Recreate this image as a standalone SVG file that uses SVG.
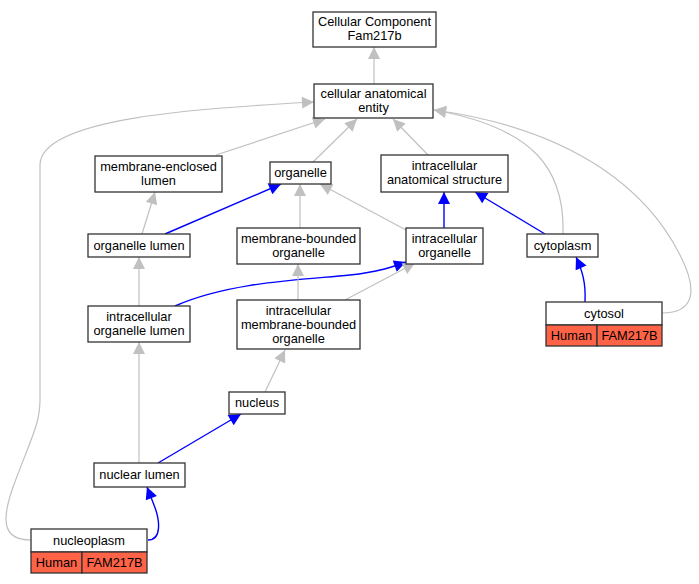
<svg xmlns="http://www.w3.org/2000/svg" width="699" height="584" viewBox="0 0 699 584">
<style>
.n rect{fill:#fff;stroke:#333;stroke-width:1.3}
.r{fill:#ff6347!important}
text{font-family:"Liberation Sans",Arial,sans-serif;font-size:12.8px;fill:#000;text-anchor:middle}
.g{fill:none;stroke:#c0c0c0;stroke-width:1.2}
.b{fill:none;stroke:#0000ff;stroke-width:1.4}
</style>
<defs>
<marker id="ag" markerUnits="userSpaceOnUse" markerWidth="14" markerHeight="12" refX="11" refY="5.5" orient="auto" viewBox="0 0 12 11"><path d="M0,0 L11,5.5 L0,11 Z" fill="#c0c0c0"/></marker>
<marker id="ab" markerUnits="userSpaceOnUse" markerWidth="14" markerHeight="12" refX="11" refY="5.5" orient="auto" viewBox="0 0 12 11"><path d="M0,0 L11,5.5 L0,11 Z" fill="#0000ff"/></marker>
</defs>
<rect width="699" height="584" fill="#fff"/>
<g id="edges">
<path class="g" marker-end="url(#ag)" d="M374,84 L374,47"/>
<path class="g" marker-end="url(#ag)" d="M216,155 L325,119"/>
<path class="g" marker-end="url(#ag)" d="M313,162 L357,119"/>
<path class="g" marker-end="url(#ag)" d="M428,155 L393,119"/>
<path class="g" marker-end="url(#ag)" d="M563,234 C565,170 535,128 434,110"/>
<path class="g" marker-end="url(#ag)" d="M662,313 C695,313 698,290 680,255 C650,195 580,130 434,110"/>
<path class="g" marker-end="url(#ag)" d="M31,540 C2,540 2,520 12,490 C30,440 40,425 40,400 L40,165 C40,118 200,108 314,102"/>
<path class="b" marker-end="url(#ab)" d="M165,234 L281,184"/>
<path class="g" marker-end="url(#ag)" d="M142,234 L155,192"/>
<path class="g" marker-end="url(#ag)" d="M300,228 L300,184"/>
<path class="g" marker-end="url(#ag)" d="M406,230 L320,184"/>
<path class="b" marker-end="url(#ab)" d="M444,228 L444,192"/>
<path class="b" marker-end="url(#ab)" d="M545,234 L475,192"/>
<path class="b" marker-end="url(#ab)" d="M585,302 C586,282 582,270 576,257"/>
<path class="g" marker-end="url(#ag)" d="M139,306 L139,257"/>
<path class="b" marker-end="url(#ab)" d="M175,306 C230,282 300,280 350,275 C380,272 395,266 406,262"/>
<path class="g" marker-end="url(#ag)" d="M298,300 L298,264"/>
<path class="g" marker-end="url(#ag)" d="M345,300 L415,263"/>
<path class="g" marker-end="url(#ag)" d="M265,392 L285,350"/>
<path class="g" marker-end="url(#ag)" d="M139,463 L139,342"/>
<path class="b" marker-end="url(#ab)" d="M158,463 L241,414"/>
<path class="b" marker-end="url(#ab)" d="M148,540 C162,540 160,520 154,505 L147,487"/>
</g>
<g id="n_root" class="n"><rect x="313" y="12" width="123" height="35"/><text x="374.5" y="26">Cellular Component</text><text x="374.5" y="40">Fam217b</text></g>
<g id="n_cae" class="n"><rect x="314" y="84" width="119" height="34"/><text x="373.5" y="98">cellular anatomical</text><text x="373.5" y="112">entity</text></g>
<g id="n_mel" class="n"><rect x="95" y="156" width="127" height="36"/><text x="158.5" y="171">membrane-enclosed</text><text x="158.5" y="185">lumen</text></g>
<g id="n_org" class="n"><rect x="270" y="162" width="61" height="22"/><text x="300.5" y="177">organelle</text></g>
<g id="n_ias" class="n"><rect x="381" y="155" width="127" height="37"/><text x="444.5" y="170">intracellular</text><text x="444.5" y="184">anatomical structure</text></g>
<g id="n_ol" class="n"><rect x="88" y="234" width="102" height="23"/><text x="139" y="250">organelle lumen</text></g>
<g id="n_mbo" class="n"><rect x="237" y="228" width="123" height="36"/><text x="298.5" y="243">membrane-bounded</text><text x="298.5" y="257">organelle</text></g>
<g id="n_io" class="n"><rect x="406" y="228" width="77" height="36"/><text x="444.5" y="243">intracellular</text><text x="444.5" y="257">organelle</text></g>
<g id="n_cyto" class="n"><rect x="527" y="234" width="71" height="23"/><text x="562.5" y="250">cytoplasm</text></g>
<g id="n_iol" class="n"><rect x="88" y="306" width="102" height="36"/><text x="139" y="321">intracellular</text><text x="139" y="335">organelle lumen</text></g>
<g id="n_imbo" class="n"><rect x="237" y="300" width="123" height="49"/><text x="298.5" y="315">intracellular</text><text x="298.5" y="329">membrane-bounded</text><text x="298.5" y="343">organelle</text></g>
<g id="n_cytosol" class="n"><rect x="546" y="302" width="116" height="23"/><rect class="r" x="546" y="325" width="51" height="21"/><rect class="r" x="597" y="325" width="65" height="21"/><text x="604" y="318">cytosol</text><text x="571.5" y="340">Human</text><text x="629.5" y="340">FAM217B</text></g>
<g id="n_nuc" class="n"><rect x="229" y="392" width="56" height="22"/><text x="257" y="407">nucleus</text></g>
<g id="n_nl" class="n"><rect x="94" y="463" width="91" height="24"/><text x="139.5" y="479">nuclear lumen</text></g>
<g id="n_np" class="n"><rect x="31" y="529" width="116" height="23"/><rect class="r" x="31" y="552" width="51" height="21"/><rect class="r" x="82" y="552" width="65" height="21"/><text x="89" y="545">nucleoplasm</text><text x="56.5" y="567">Human</text><text x="114.5" y="567">FAM217B</text></g>
</svg>
